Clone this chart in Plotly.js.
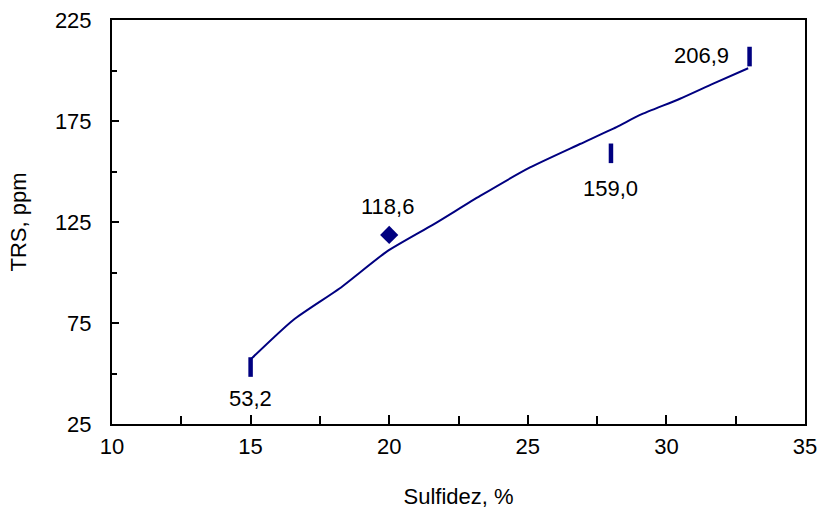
<!DOCTYPE html>
<html>
<head>
<meta charset="utf-8">
<script src="https://cdn.plot.ly/plotly-3.0.1.min.js"></script>
<style>html,body{margin:0;padding:0;background:#fff;}#chart{width:820px;height:513px;}</style>
</head>
<body>
<div id="chart"></div>
<script>
// Measured points
const sulfidez = [15, 20, 28, 33];
const trs = [53.2, 118.6, 159.0, 206.9];
const pointLabels = ["53,2", "118,6", "159,0", "206,9"];
const pointSymbols = ["line-ns", "diamond", "line-ns", "line-ns"];

// Trend line
const trendX = [15.04, 16.54, 18.22, 19.91, 21.6, 23.28, 25.08, 26.88, 28.2, 29.05, 30.49, 31.69, 32.95];
const trendY = [57.5, 76.5, 92.2, 110.3, 123.8, 137.9, 152.0, 163.6, 172.0, 178.0, 186.0, 193.5, 201.1];

const navy = '#000080';
const font = 'Liberation Sans, Arial, sans-serif';

const traces = [
  {x: trendX, y: trendY, mode: 'lines', line: {color: navy, width: 2, shape: 'spline', smoothing: 0.6}, showlegend: false, hoverinfo: 'skip'},
  {x: sulfidez, y: trs, mode: 'markers', showlegend: false,
   marker: {symbol: pointSymbols, size: [14, 14, 14, 14], color: navy, opacity: 1,
            line: {color: navy, width: [4.5, 0, 4.5, 4.5]}}}
];

const shifts = [[0, -31, 'center'], [-2, 28, 'center'], [0, -35, 'center'], [-19, 1, 'right']];
const annotations = sulfidez.map((x, i) => ({
  x: x, y: trs[i], text: pointLabels[i], showarrow: false,
  xshift: shifts[i][0], yshift: shifts[i][1], xanchor: shifts[i][2], yanchor: 'middle',
  font: {family: font, size: 22, color: '#000'}
}));

const layout = {
  width: 820, height: 513,
  margin: {l: 112, r: 15, t: 20, b: 89},
  paper_bgcolor: '#fff', plot_bgcolor: '#fff',
  font: {family: font, size: 22, color: '#000'},
  xaxis: {range: [10, 35], dtick: 5, tick0: 10, ticks: 'inside', ticklen: 9, tickwidth: 2, tickcolor: '#000',
          minor: {dtick: 2.5, ticks: 'inside', ticklen: 8, tickwidth: 2, tickcolor: '#000'},
          showline: true, linecolor: '#000', linewidth: 2, mirror: true, showgrid: false, zeroline: false,
          ticklabelstandoff: 2,
          title: {text: 'Sulfidez, %', font: {family: font, size: 22}, standoff: 30}},
  yaxis: {range: [25, 225], dtick: 50, tick0: 25, ticks: 'inside', ticklen: 7, tickwidth: 2, tickcolor: '#000',
          minor: {dtick: 25, ticks: 'inside', ticklen: 5, tickwidth: 2, tickcolor: '#000'},
          showline: true, linecolor: '#000', linewidth: 2, mirror: true, showgrid: false, zeroline: false,
          ticklabelstandoff: 14,
          title: {text: 'TRS, ppm', font: {family: font, size: 22}, standoff: 22}},
  annotations: annotations
};

Plotly.newPlot('chart', traces, layout, {displayModeBar: false, staticPlot: true});
</script>
</body>
</html>
